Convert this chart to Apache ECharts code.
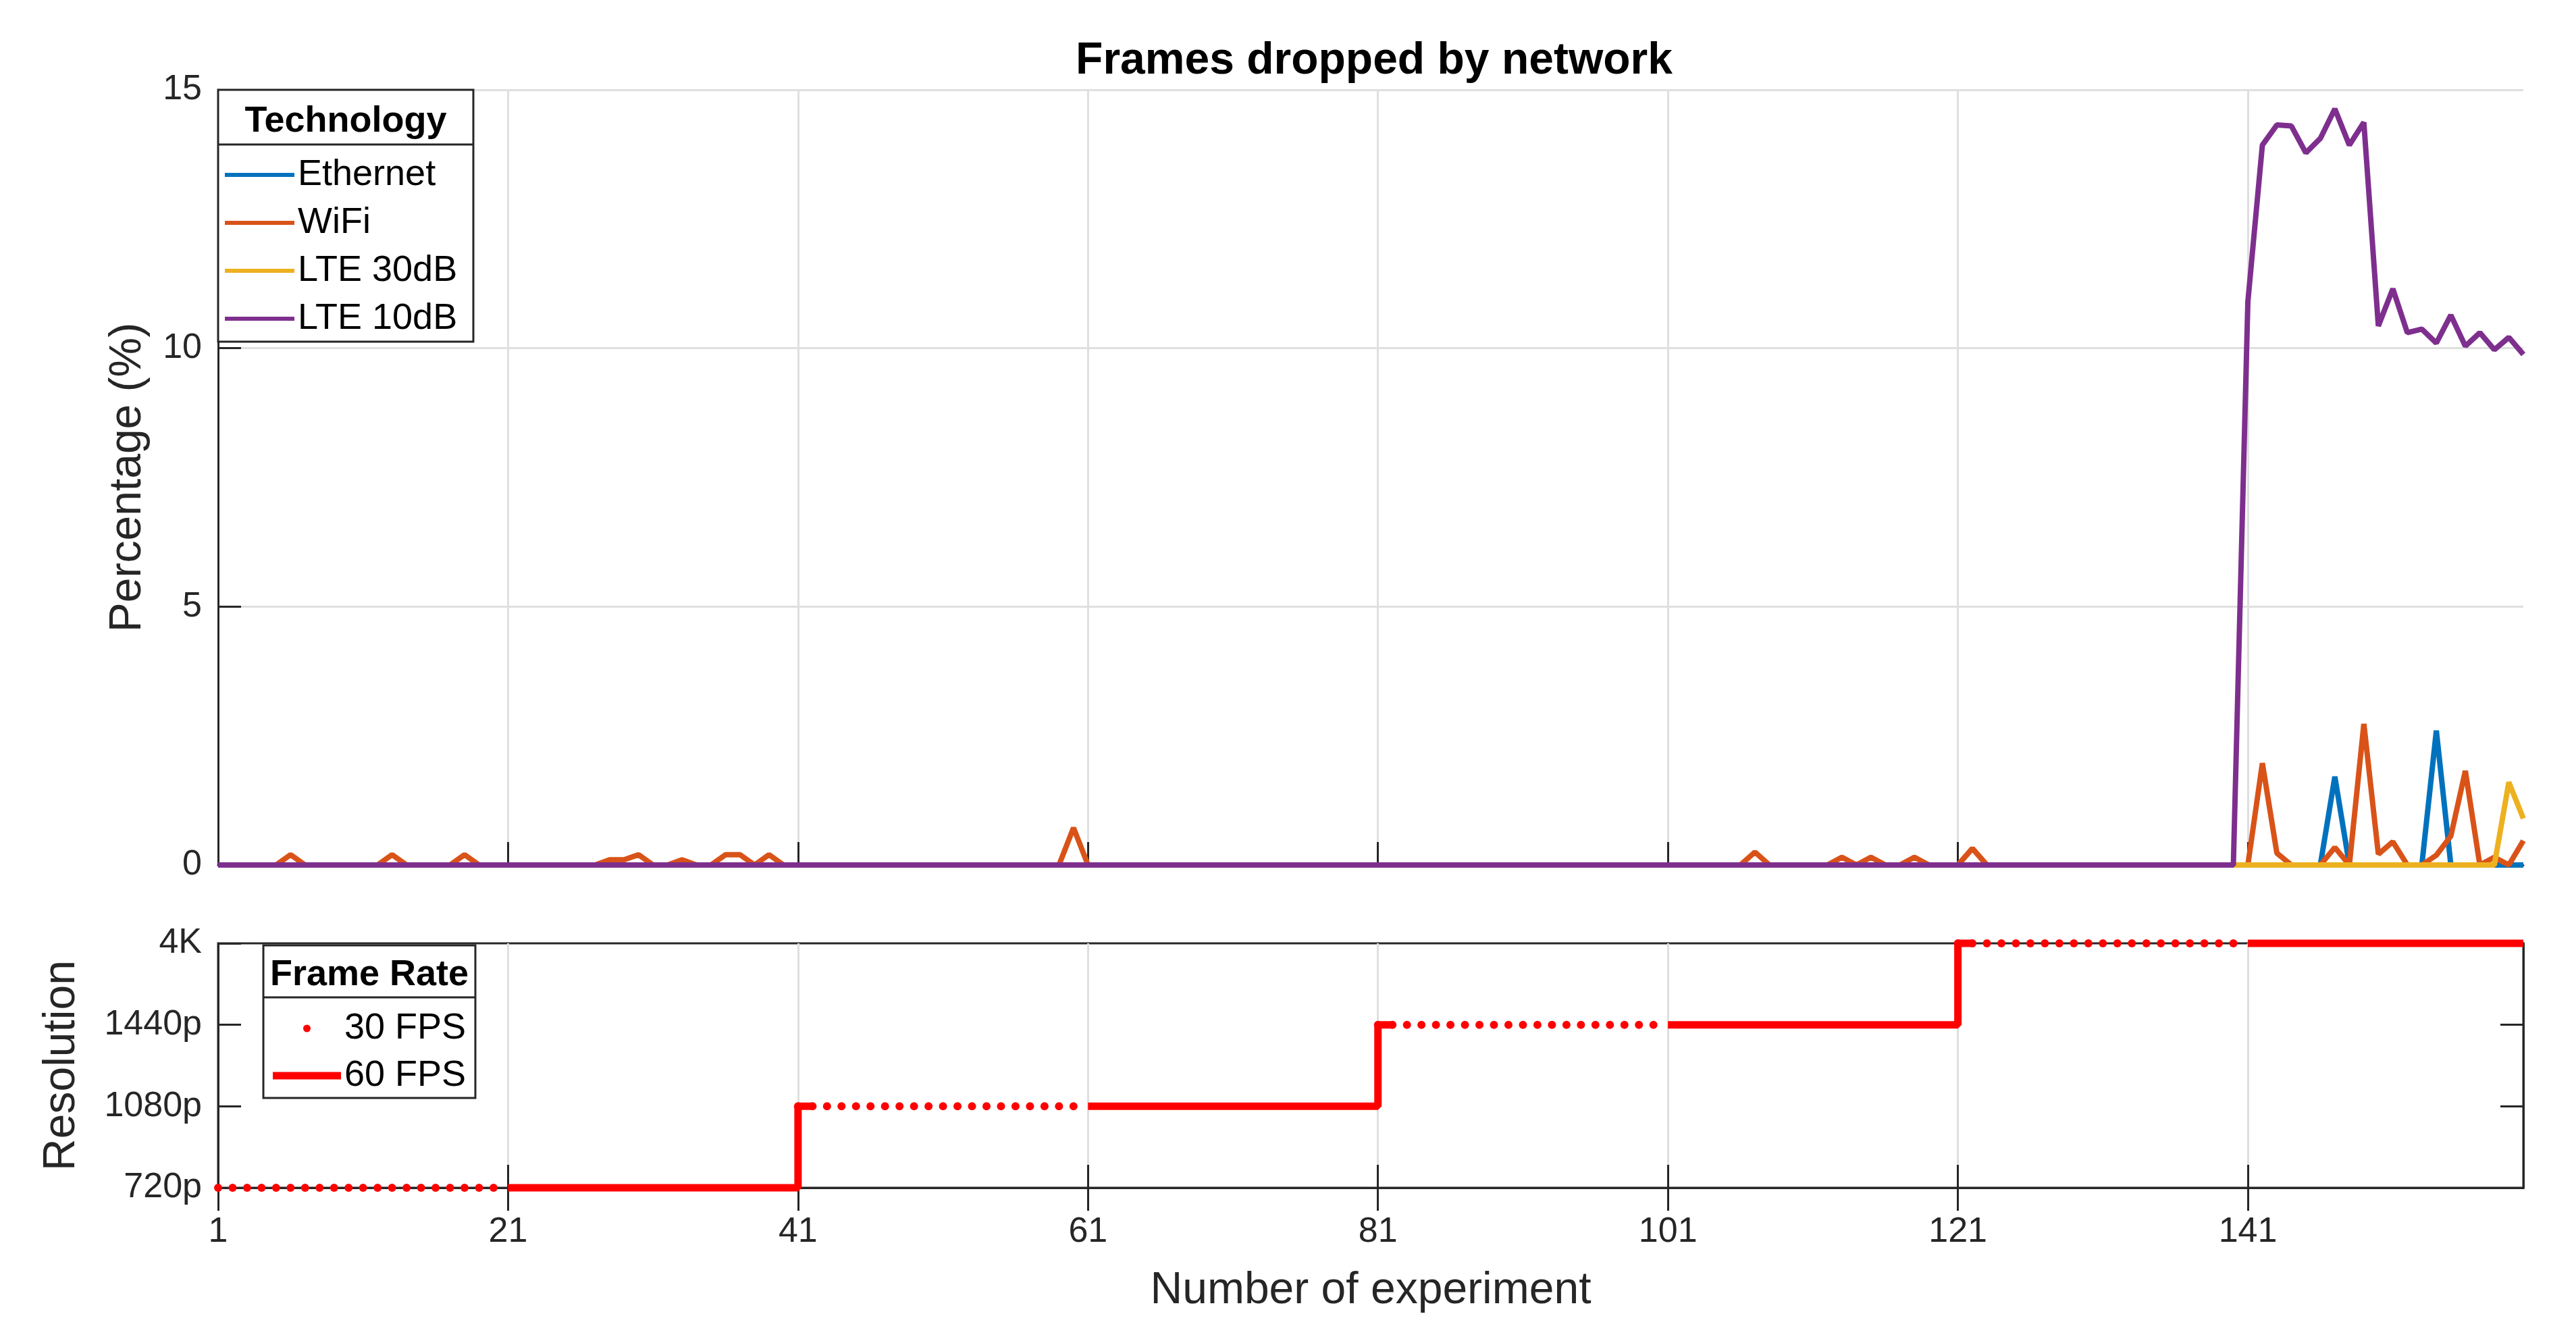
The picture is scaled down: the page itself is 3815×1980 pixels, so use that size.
<!DOCTYPE html>
<html>
<head>
<meta charset="utf-8">
<script src="https://cdn.jsdelivr.net/npm/echarts@6/dist/echarts.min.js"></script>
<style>
  html, body { margin: 0; padding: 0; background: #fff; }
  #chart { width: 3815px; height: 1980px; }
</style>
</head>
<body>
<div id="chart"></div>
<script>
// experiments 1..160
const experiments = Array.from({ length: 160 }, (_, i) => String(i + 1))

// frames dropped (%), one row = 20 experiments
const ethernet = [
  0, 0, 0, 0, 0, 0, 0, 0, 0, 0, 0, 0, 0, 0, 0, 0, 0, 0, 0, 0,
  0, 0, 0, 0, 0, 0, 0, 0, 0, 0, 0, 0, 0, 0, 0, 0, 0, 0, 0, 0,
  0, 0, 0, 0, 0, 0, 0, 0, 0, 0, 0, 0, 0, 0, 0, 0, 0, 0, 0, 0,
  0, 0, 0, 0, 0, 0, 0, 0, 0, 0, 0, 0, 0, 0, 0, 0, 0, 0, 0, 0,
  0, 0, 0, 0, 0, 0, 0, 0, 0, 0, 0, 0, 0, 0, 0, 0, 0, 0, 0, 0,
  0, 0, 0, 0, 0, 0, 0, 0, 0, 0, 0, 0, 0, 0, 0, 0, 0, 0, 0, 0,
  0, 0, 0, 0, 0, 0, 0, 0, 0, 0, 0, 0, 0, 0, 0, 0, 0, 0, 0, 0,
  0, 0, 0, 0, 0, 0, 1.71, 0, 0, 0, 0, 0, 0, 2.6, 0, 0, 0, 0, 0, 0
]
const wifi = [
  0, 0, 0, 0, 0, 0.2, 0, 0, 0, 0, 0, 0, 0.2, 0, 0, 0, 0, 0.2, 0, 0,
  0, 0, 0, 0, 0, 0, 0, 0.1, 0.1, 0.2, 0, 0, 0.1, 0, 0, 0.2, 0.2, 0, 0.2, 0,
  0, 0, 0, 0, 0, 0, 0, 0, 0, 0, 0, 0, 0, 0, 0, 0, 0, 0, 0, 0.72,
  0, 0, 0, 0, 0, 0, 0, 0, 0, 0, 0, 0, 0, 0, 0, 0, 0, 0, 0, 0,
  0, 0, 0, 0, 0, 0, 0, 0, 0, 0, 0, 0, 0, 0, 0, 0, 0, 0, 0, 0,
  0, 0, 0, 0, 0, 0, 0.25, 0, 0, 0, 0, 0, 0.15, 0, 0.15, 0, 0, 0.15, 0, 0,
  0, 0.32, 0, 0, 0, 0, 0, 0, 0, 0, 0, 0, 0, 0, 0, 0, 0, 0, 0, 0,
  0, 1.97, 0.23, 0, 0, 0, 0.34, 0, 2.73, 0.21, 0.45, 0, 0, 0.19, 0.56, 1.82, 0, 0.15, 0, 0.47
]
const lte30 = [
  0, 0, 0, 0, 0, 0, 0, 0, 0, 0, 0, 0, 0, 0, 0, 0, 0, 0, 0, 0,
  0, 0, 0, 0, 0, 0, 0, 0, 0, 0, 0, 0, 0, 0, 0, 0, 0, 0, 0, 0,
  0, 0, 0, 0, 0, 0, 0, 0, 0, 0, 0, 0, 0, 0, 0, 0, 0, 0, 0, 0,
  0, 0, 0, 0, 0, 0, 0, 0, 0, 0, 0, 0, 0, 0, 0, 0, 0, 0, 0, 0,
  0, 0, 0, 0, 0, 0, 0, 0, 0, 0, 0, 0, 0, 0, 0, 0, 0, 0, 0, 0,
  0, 0, 0, 0, 0, 0, 0, 0, 0, 0, 0, 0, 0, 0, 0, 0, 0, 0, 0, 0,
  0, 0, 0, 0, 0, 0, 0, 0, 0, 0, 0, 0, 0, 0, 0, 0, 0, 0, 0, 0,
  0, 0, 0, 0, 0, 0, 0, 0, 0, 0, 0, 0, 0, 0, 0, 0, 0, 0, 1.6, 0.9
]
const lte10 = [
  0, 0, 0, 0, 0, 0, 0, 0, 0, 0, 0, 0, 0, 0, 0, 0, 0, 0, 0, 0,
  0, 0, 0, 0, 0, 0, 0, 0, 0, 0, 0, 0, 0, 0, 0, 0, 0, 0, 0, 0,
  0, 0, 0, 0, 0, 0, 0, 0, 0, 0, 0, 0, 0, 0, 0, 0, 0, 0, 0, 0,
  0, 0, 0, 0, 0, 0, 0, 0, 0, 0, 0, 0, 0, 0, 0, 0, 0, 0, 0, 0,
  0, 0, 0, 0, 0, 0, 0, 0, 0, 0, 0, 0, 0, 0, 0, 0, 0, 0, 0, 0,
  0, 0, 0, 0, 0, 0, 0, 0, 0, 0, 0, 0, 0, 0, 0, 0, 0, 0, 0, 0,
  0, 0, 0, 0, 0, 0, 0, 0, 0, 0, 0, 0, 0, 0, 0, 0, 0, 0, 0, 0,
  10.9, 13.93, 14.32, 14.3, 13.78, 14.06, 14.63, 13.93, 14.37, 10.43,
  11.15, 10.3, 10.37, 10.1, 10.64, 10.04, 10.3, 9.97, 10.21, 9.88
]

// settings per block of 20 experiments
const resolutionLabels = ['720p', '1080p', '1440p', '4K']
const runResolution = ['720p', '720p', '1080p', '1080p', '1440p', '1440p', '4K', '4K']
const runFrameRate = [30, 60, 30, 60, 30, 60, 30, 60]
const runLength = 20

const resolution = []
const frameRate = []
runResolution.forEach((r, i) => {
  for (let k = 0; k < runLength; k++) {
    resolution.push(resolutionLabels.indexOf(r))
    frameRate.push(runFrameRate[i])
  }
})
// 30 FPS: a dot per experiment
const fps30 = resolution.map((r, i) => (frameRate[i] === 30 ? r : null))
// 60 FPS: line that steps up into the next block
const fps60 = resolution.map((r, i) =>
  frameRate[i] === 60 || (i > 0 && frameRate[i - 1] === 60) ? r : null)

const FONT = 'Liberation Sans, Arial, sans-serif'
const AXIS = '#262626'
const GRID = '#dfdfdf'
// tick every 20 experiments: 1, 21, 41, ...
const every20 = (index) => index % 20 === 0

const lineSeries = (name, data, color) => ({
  name: name,
  type: 'line',
  xAxisIndex: 0,
  yAxisIndex: 0,
  data: data,
  showSymbol: false,
  clip: false,
  lineStyle: { width: 8, color: color },
  itemStyle: { color: color },
})

let option = {
  animation: false,
  backgroundColor: '#fff',
  textStyle: { fontFamily: FONT },
  title: {
    text: 'Frames dropped by network',
    left: 2030,
    top: 53,
    textAlign: 'center',
    textStyle: { fontFamily: FONT, fontSize: 66, fontWeight: 'bold', color: '#000' },
  },
  grid: [
    { left: 323, right: 78, top: 133, height: 1148 },
    { left: 323, right: 78, top: 1397, height: 362, show: true, borderColor: AXIS, borderWidth: 3 },
  ],
  xAxis: [
    {
      type: 'category', gridIndex: 0, data: experiments, boundaryGap: false,
      axisLine: { lineStyle: { color: AXIS, width: 3 } },
      axisTick: { inside: true, length: 34, interval: every20, lineStyle: { color: AXIS, width: 3 } },
      axisLabel: { show: false, interval: every20 },
      splitLine: { show: true, interval: every20, lineStyle: { color: GRID, width: 3 } },
    },
    {
      type: 'category', gridIndex: 1, data: experiments, boundaryGap: false,
      name: 'Number of experiment', nameLocation: 'middle', nameGap: 120,
      nameTextStyle: { fontFamily: FONT, fontSize: 66, color: AXIS },
      axisLine: { lineStyle: { color: AXIS, width: 3 } },
      axisTick: { inside: true, length: 34, interval: every20, lineStyle: { color: AXIS, width: 3 } },
      axisLabel: { interval: every20, margin: 40, fontFamily: FONT, fontSize: 52, color: AXIS },
      splitLine: { show: true, interval: every20, lineStyle: { color: GRID, width: 3 } },
    },
    {
      type: 'category', gridIndex: 1, data: experiments, boundaryGap: false, position: 'top',
      axisLine: { lineStyle: { color: AXIS, width: 3 } },
      axisTick: { inside: true, length: 34, interval: every20, lineStyle: { color: AXIS, width: 3 } },
      axisLabel: { show: false, interval: every20 },
      splitLine: { show: false },
    },
  ],
  yAxis: [
    {
      type: 'value', gridIndex: 0, min: 0, max: 15, interval: 5,
      name: 'Percentage (%)', nameLocation: 'middle', nameGap: 100,
      nameTextStyle: { fontFamily: FONT, fontSize: 66, color: AXIS },
      axisLine: { show: true, lineStyle: { color: AXIS, width: 3 } },
      axisTick: { show: true, inside: true, length: 34, lineStyle: { color: AXIS, width: 3 } },
      axisLabel: { margin: 24, fontFamily: FONT, fontSize: 52, color: AXIS },
      splitLine: { show: true, lineStyle: { color: GRID, width: 3 } },
    },
    {
      type: 'value', gridIndex: 1, min: 0, max: 3, interval: 1,
      name: 'Resolution', nameLocation: 'middle', nameGap: 198,
      nameTextStyle: { fontFamily: FONT, fontSize: 66, color: AXIS },
      axisLine: { show: true, lineStyle: { color: AXIS, width: 3 } },
      axisTick: { show: true, inside: true, length: 34, lineStyle: { color: AXIS, width: 3 } },
      axisLabel: {
        margin: 24, fontFamily: FONT, fontSize: 52, color: AXIS,
        formatter: (v) => resolutionLabels[v],
      },
      splitLine: { show: false },
    },
    {
      type: 'value', gridIndex: 1, min: 0, max: 3, interval: 1, position: 'right',
      axisLine: { show: true, lineStyle: { color: AXIS, width: 3 } },
      axisTick: { show: true, inside: true, length: 34, lineStyle: { color: AXIS, width: 3 } },
      axisLabel: { show: false },
      splitLine: { show: false },
    },
  ],
  legend: [
    {
      data: ['Ethernet', 'WiFi', 'LTE 30dB', 'LTE 10dB'],
      orient: 'vertical', left: 333, top: 229, padding: 0,
      itemWidth: 103, itemHeight: 6, itemGap: 11, icon: 'rect',
      selectedMode: false, z: 20,
      textStyle: { fontFamily: FONT, fontSize: 54, lineHeight: 60, color: '#000' },
    },
    {
      data: [{ name: '30 FPS', icon: 'circle' }, { name: '60 FPS', icon: 'rect' }],
      orient: 'vertical', left: 404, top: 1493, padding: 0,
      itemWidth: 101, itemHeight: 11, itemGap: 10,
      selectedMode: false, z: 20,
      textStyle: { fontFamily: FONT, fontSize: 54, lineHeight: 60, color: '#000' },
    },
  ],
  graphic: [
    { type: 'rect', z: 10, shape: { x: 323, y: 133, width: 378, height: 373 },
      style: { fill: '#fff', stroke: AXIS, lineWidth: 3 } },
    { type: 'line', z: 11, shape: { x1: 323, y1: 214, x2: 701, y2: 214 },
      style: { stroke: AXIS, lineWidth: 3 } },
    { type: 'text', z: 21, x: 512, y: 180,
      style: { text: 'Technology', font: 'bold 54px ' + FONT, fill: '#000', align: 'center', verticalAlign: 'middle' } },
    { type: 'rect', z: 10, shape: { x: 390, y: 1400, width: 314, height: 226 },
      style: { fill: '#fff', stroke: AXIS, lineWidth: 3 } },
    { type: 'line', z: 11, shape: { x1: 390, y1: 1477, x2: 704, y2: 1477 },
      style: { stroke: AXIS, lineWidth: 3 } },
    { type: 'text', z: 21, x: 547, y: 1444,
      style: { text: 'Frame Rate', font: 'bold 54px ' + FONT, fill: '#000', align: 'center', verticalAlign: 'middle' } },
  ],
  series: [
    lineSeries('Ethernet', ethernet, '#0072BD'),
    lineSeries('WiFi', wifi, '#D95319'),
    lineSeries('LTE 30dB', lte30, '#EDB120'),
    lineSeries('LTE 10dB', lte10, '#7E2F8E'),
    {
      name: '30 FPS',
      type: 'line',
      xAxisIndex: 1,
      yAxisIndex: 1,
      data: fps30,
      clip: false,
      showSymbol: true,
      showAllSymbol: true,
      symbol: 'circle',
      symbolSize: 12,
      itemStyle: { color: '#ff0000' },
      lineStyle: { width: 0, opacity: 0 },
    },
    {
      name: '60 FPS',
      type: 'line',
      xAxisIndex: 1,
      yAxisIndex: 1,
      data: fps60,
      step: 'end',
      clip: false,
      showSymbol: false,
      itemStyle: { color: '#ff0000' },
      lineStyle: { width: 11, color: '#ff0000' },
    },
  ],
}

var myChart = echarts.init(document.getElementById('chart'))
myChart.setOption(option)
</script>
</body>
</html>
